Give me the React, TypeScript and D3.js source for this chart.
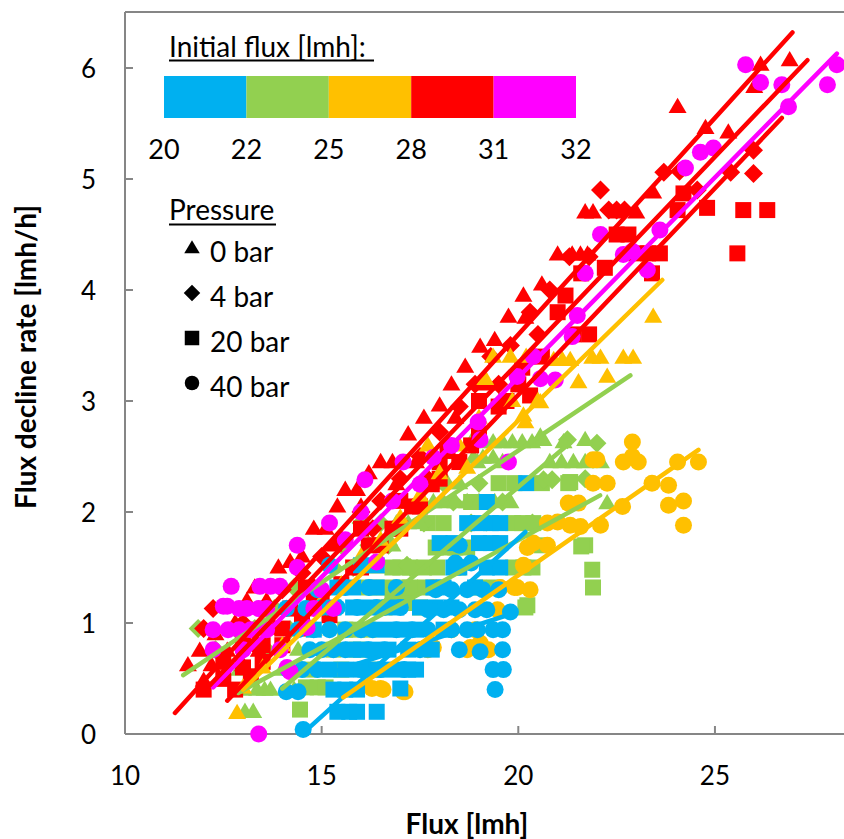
import React from "react";
import * as d3 from "d3";

// ---------- data ----------
const xTicks = [10, 15, 20, 25];
const yTicks = [0, 1, 2, 3, 4, 5, 6];
const fluxLegendValues = ["20", "22", "25", "28", "31", "32"];
const fluxLegendColors = ["#00B0F0", "#92D050", "#FFC000", "#FF0000", "#FF00FF"];
const pressureLabels = ["0 bar", "4 bar", "20 bar", "40 bar"];
const pressureShapes = ["triangle", "diamond", "square", "circle"];

// 20 lmh (blue)
const blueCircle40: [number, number][] = [
  [14.53, 0.04], [14.1, 0.38], [14.4, 0.38], [14.15, 0.58], [14.5, 0.58], [14.9, 0.58], [15.0, 0.76], [15.3, 0.76],
  [15.6, 0.76], [14.4, 0.94], [14.8, 0.94], [15.2, 0.94], [15.6, 0.94], [16.0, 0.94], [16.3, 0.94], [15.0, 1.14],
  [15.4, 1.14], [16.4, 1.14], [14.1, 1.13], [16.9, 0.94], [17.3, 0.94], [17.7, 0.94], [16.2, 0.76], [16.6, 0.76],
  [17.1, 0.58], [16.5, 0.58], [17.7, 1.12], [18.1, 1.12], [18.5, 1.12], [18.9, 1.12], [19.2, 1.12], [19.8, 1.1],
  [18.3, 0.94], [18.7, 0.94], [18.96, 0.94], [19.36, 0.94], [19.6, 0.94], [18.5, 0.76], [19.03, 0.74], [19.6, 0.76],
  [19.36, 0.58], [19.62, 0.58], [19.41, 0.4], [18.3, 1.3], [18.7, 1.3], [19.1, 1.3], [19.5, 1.3], [15.6, 1.32],
  [16.2, 1.32], [18.4, 1.54], [18.8, 1.54], [18.5, 1.7], [17.9, 1.3], [14.7, 0.76], [15.9, 1.14], [14.9, 1.3],
  [16.6, 1.14], [17.0, 1.14], [15.2, 1.52], [16.9, 1.32], [14.6, 1.13], [17.5, 0.76], [16.0, 0.58],
];
const blueSquare20: [number, number][] = [
  [15.4, 0.2], [15.7, 0.2], [15.9, 0.2], [16.4, 0.2], [15.3, 0.4], [15.6, 0.4], [15.9, 0.4], [15.2, 0.58],
  [15.6, 0.58], [16.0, 0.58], [16.4, 0.58], [16.8, 0.58], [17.2, 0.58], [15.8, 0.76], [16.0, 0.76], [16.3, 0.76],
  [16.7, 0.76], [17.2, 0.76], [16.6, 0.94], [17.0, 0.94], [17.4, 0.94], [15.3, 1.14], [15.8, 1.14], [16.2, 1.14],
  [17.5, 1.14], [17.9, 1.14], [18.3, 1.14], [15.4, 1.32], [15.8, 1.32], [16.4, 1.32], [17.84, 1.32], [18.1, 1.32],
  [18.35, 1.5], [18.5, 1.5], [19.2, 1.5], [19.54, 1.5], [18.0, 1.72], [18.35, 1.72], [19.0, 1.72], [19.3, 1.72],
  [19.54, 1.72], [19.0, 1.9], [19.3, 1.9], [19.54, 1.9], [20.2, 2.26], [18.7, 1.9], [17.0, 0.41], [17.4, 0.58],
  [18.1, 0.94], [14.8, 0.94], [17.8, 0.76], [16.0, 1.52], [16.4, 1.52], [18.9, 1.32], [19.2, 2.09], [16.9, 1.14],
];
// 22 lmh (green)
const greenSquare20: [number, number][] = [
  [14.45, 0.22], [14.6, 0.42], [14.9, 0.42], [15.1, 0.42], [14.7, 0.58], [15.5, 0.58], [15.9, 0.76], [16.3, 0.58],
  [15.9, 0.94], [16.2, 0.94], [16.6, 1.14], [16.8, 1.18], [17.17, 1.18], [17.5, 1.14], [16.2, 1.32], [16.6, 1.32],
  [17.0, 1.32], [17.25, 1.32], [17.63, 1.32], [17.0, 1.5], [17.25, 1.5], [17.6, 1.5], [17.94, 1.5], [18.47, 1.5],
  [18.1, 1.68], [18.4, 1.68], [18.7, 1.68], [17.7, 1.9], [18.1, 1.9], [19.87, 1.9], [20.38, 1.9], [19.87, 1.5],
  [20.13, 1.5], [20.36, 1.5], [20.23, 1.16], [20.18, 1.14], [19.0, 1.32], [19.4, 1.32], [20.6, 2.26], [21.27, 2.26],
  [21.32, 2.27], [21.7, 1.7], [21.88, 1.48], [21.9, 1.32], [21.6, 1.69], [19.5, 2.26], [18.8, 2.09], [20.6, 1.7],
  [15.6, 0.94], [15.3, 0.76], [16.8, 1.5], [17.9, 1.68], [19.9, 2.26], [20.1, 1.9],
];
const greenDiamond4: [number, number][] = [
  [11.86, 0.95], [12.3, 0.76], [12.8, 0.95], [13.3, 0.95], [13.8, 1.13], [14.3, 1.32], [14.8, 1.32], [15.3, 1.5],
  [15.8, 1.5], [16.2, 1.7], [16.7, 1.7], [17.17, 1.52], [17.25, 1.5], [17.6, 1.9], [18.35, 2.09], [18.8, 1.9],
  [19.2, 1.91], [19.6, 2.09], [20.36, 1.9], [20.64, 2.29], [20.86, 2.29], [21.25, 2.65], [21.7, 2.3], [22.0, 2.62],
  [19.0, 2.26], [16.0, 1.9], [15.5, 1.7], [17.5, 2.09], [13.6, 0.76], [14.2, 0.94], [16.5, 1.9], [18.1, 2.26],
];
const greenTriangle0: [number, number][] = [
  [13.05, 0.2], [13.26, 0.2], [13.36, 0.4], [13.55, 0.4], [13.7, 0.4], [13.0, 0.4], [14.0, 0.58], [14.4, 0.76],
  [14.8, 0.94], [15.2, 1.13], [15.6, 1.32], [16.0, 1.5], [16.4, 1.5], [16.8, 1.7], [17.2, 1.9], [17.5, 1.9],
  [17.84, 2.09], [18.1, 2.09], [18.4, 2.09], [18.7, 2.09], [19.0, 2.09], [19.4, 2.09], [19.8, 2.09], [17.5, 2.09],
  [18.86, 2.49], [19.1, 2.49], [19.36, 2.49], [19.6, 2.45], [20.8, 2.45], [21.1, 2.45], [21.4, 2.45], [21.7, 2.45],
  [22.1, 2.45], [18.96, 2.45], [19.36, 2.63], [19.6, 2.63], [19.85, 2.63], [20.1, 2.63], [20.35, 2.63], [20.64, 2.65],
  [20.56, 2.68], [21.15, 2.63], [21.7, 2.65], [22.26, 2.08], [18.8, 2.63], [19.1, 2.63], [14.3, 0.4], [12.9, 0.58],
  [16.9, 1.9], [18.2, 2.26], [18.5, 2.26],
];
// 25 lmh (orange)
const orangeTriangle0: [number, number][] = [
  [12.85, 0.19], [13.0, 0.42], [13.5, 0.6], [14.0, 0.8], [14.5, 0.95], [15.0, 1.2], [15.5, 1.35], [16.0, 1.6],
  [16.5, 1.75], [17.0, 1.95], [17.5, 2.15], [18.0, 2.35], [18.7, 2.4], [18.5, 2.6], [19.0, 2.85], [19.16, 3.2],
  [19.36, 3.4], [19.85, 3.0], [20.13, 2.87], [20.18, 2.81], [20.5, 3.0], [20.56, 2.99], [20.9, 3.37], [21.12, 3.37],
  [21.32, 3.37], [21.53, 3.17], [21.88, 3.39], [22.09, 3.39], [22.26, 3.22], [22.67, 3.39], [22.92, 3.39], [23.43, 3.76],
  [19.8, 3.4], [20.2, 3.4], [17.7, 2.6],
];
const orangeCircle40: [number, number][] = [
  [16.28, 0.41], [16.5, 0.41], [16.56, 0.4], [17.07, 0.38], [17.12, 0.38], [16.15, 0.58], [17.7, 0.76], [17.84, 0.78],
  [18.7, 0.76], [18.78, 0.78], [19.03, 0.82], [19.24, 0.76], [19.47, 1.12], [17.84, 1.32], [19.54, 1.32], [19.9, 1.32],
  [19.97, 1.32], [20.3, 1.3], [20.13, 1.52], [20.23, 1.68], [20.38, 1.72], [20.74, 1.7], [20.74, 1.9], [21.0, 1.91],
  [21.32, 1.88], [21.58, 1.87], [22.09, 1.88], [21.27, 2.08], [21.53, 2.08], [22.65, 2.05], [21.9, 2.26], [22.26, 2.26],
  [23.4, 2.26], [23.82, 2.24], [23.82, 2.06], [24.2, 2.1], [24.2, 1.88], [21.9, 2.47], [22.0, 2.47], [22.67, 2.45],
  [22.9, 2.5], [23.05, 2.45], [22.9, 2.63], [24.05, 2.45], [24.58, 2.45], [18.3, 0.94], [18.9, 0.94],
];
// 28 lmh (red)
const redTriangle0: [number, number][] = [
  [11.6, 0.62], [11.9, 0.75], [12.2, 0.62], [12.3, 0.9], [12.6, 0.75], [12.8, 1.0], [13.1, 1.2], [13.3, 1.32],
  [13.6, 1.2], [13.9, 1.5], [14.2, 1.55], [14.5, 1.6], [14.8, 1.85], [15.1, 1.85], [15.4, 2.05], [15.6, 2.2],
  [15.9, 2.2], [16.2, 2.35], [16.5, 2.45], [16.8, 2.45], [17.2, 2.7], [17.6, 2.85], [18.0, 2.96], [18.3, 3.15],
  [18.65, 3.31], [19.03, 3.49], [19.4, 3.55], [19.75, 3.76], [20.18, 3.75], [20.13, 3.95], [20.6, 4.05], [21.0, 4.32],
  [21.37, 4.32], [21.58, 4.32], [21.76, 4.32], [21.7, 4.7], [21.9, 4.7], [22.5, 4.7], [23.0, 4.7], [23.43, 4.88],
  [24.05, 5.65], [24.76, 5.46], [25.34, 5.42], [26.0, 5.83], [26.16, 6.03], [26.9, 6.07], [12.0, 0.48], [12.5, 0.48],
  [13.0, 0.62], [13.4, 0.75], [13.8, 0.95], [14.1, 1.13], [15.3, 1.7], [16.0, 2.05], [16.9, 2.25], [17.4, 2.45],
  [18.4, 2.85], [19.2, 3.15],
];
const redDiamond4: [number, number][] = [
  [12.24, 1.13], [12.0, 0.95], [13.0, 1.0], [13.5, 1.13], [14.0, 1.3], [14.5, 1.45], [15.0, 1.6], [15.5, 1.75],
  [16.0, 2.0], [16.5, 2.1], [17.0, 2.3], [17.5, 2.5], [18.0, 2.72], [18.5, 2.95], [18.9, 3.15], [19.3, 3.4],
  [19.8, 3.5], [20.3, 3.8], [20.8, 4.0], [21.3, 4.3], [22.3, 4.72], [22.5, 4.72], [22.7, 4.72], [22.09, 4.9],
  [23.7, 5.06], [24.1, 5.07], [24.55, 4.9], [25.4, 5.06], [25.98, 5.05], [25.98, 5.26], [12.6, 0.62], [13.3, 0.8],
  [14.8, 1.32], [16.3, 1.85], [17.7, 2.3], [19.5, 3.15], [20.5, 3.6], [21.8, 4.3],
];
const redSquare20: [number, number][] = [
  [12.0, 0.4], [12.5, 0.5], [13.0, 0.6], [13.5, 0.8], [14.0, 0.95], [14.5, 1.07], [15.0, 1.2], [15.5, 1.35],
  [16.0, 1.5], [16.5, 1.7], [17.0, 1.85], [17.5, 2.05], [18.0, 2.3], [18.5, 2.45], [18.2, 2.55], [19.0, 2.7],
  [19.5, 2.95], [20.0, 3.15], [20.3, 3.05], [20.6, 3.4], [21.0, 3.8], [21.4, 3.6], [21.8, 3.6], [22.2, 4.2],
  [22.5, 4.5], [22.8, 4.5], [23.0, 4.33], [23.3, 4.33], [24.2, 4.87], [24.05, 4.72], [24.8, 4.74], [25.72, 4.72],
  [26.33, 4.72], [25.57, 4.33], [23.6, 4.33], [23.4, 4.15], [12.5, 0.65], [13.0, 0.8], [13.5, 0.65], [14.0, 0.8],
  [14.5, 0.95], [13.2, 0.52], [12.8, 0.4], [14.8, 1.2], [15.2, 1.07], [14.2, 1.13], [14.6, 1.32], [16.2, 1.7],
  [16.8, 1.85], [17.3, 2.05], [17.8, 2.25], [18.8, 2.6], [19.7, 3.0], [20.1, 3.3], [19.0, 3.0], [18.0, 2.45],
  [17.0, 2.1], [16.0, 1.85], [15.8, 1.5], [21.2, 3.95], [21.6, 4.15],
];
// 32 lmh (magenta)
const magentaCircle40: [number, number][] = [
  [13.4, 0.0], [12.24, 0.76], [12.24, 0.94], [12.62, 0.94], [12.9, 1.13], [13.1, 1.13], [13.4, 1.13], [13.6, 1.13],
  [13.43, 1.33], [13.7, 1.33], [13.94, 1.33], [13.94, 0.76], [14.12, 0.6], [14.2, 0.56], [14.63, 0.96], [14.38, 1.5],
  [14.38, 1.7], [12.6, 1.15], [12.5, 1.15], [15.2, 1.9], [15.6, 1.75], [16.0, 2.0], [16.1, 2.29], [16.4, 1.55],
  [17.07, 2.45], [17.84, 2.49], [18.98, 2.81], [19.03, 2.65], [19.75, 2.45], [19.97, 3.22], [20.38, 3.4], [20.56, 3.2],
  [20.94, 3.19], [21.37, 3.58], [21.5, 3.77], [21.7, 4.15], [22.09, 4.5], [22.67, 4.32], [22.9, 4.35], [23.28, 4.18],
  [23.6, 4.54], [24.25, 5.1], [24.63, 5.24], [24.96, 5.28], [25.78, 6.03], [26.16, 5.87], [26.7, 5.85], [26.87, 5.65],
  [27.86, 5.85], [28.1, 6.03], [15.0, 1.3], [15.3, 1.13], [16.8, 2.1], [17.5, 2.25], [18.3, 2.6], [13.0, 0.76],
  [14.8, 1.13], [12.7, 1.33], [12.9, 0.94], [13.2, 0.94], [13.6, 0.94],
];

// trend lines: [x0, y0, x1, y1]
const trendRed: [number, number, number, number][] = [
  [11.27, 0.19, 26.97, 6.32],
  [12.16, 0.44, 27.35, 6.07],
  [12.6, 0.3, 26.7, 5.55],
];
const trendMagenta: [number, number, number, number][] = [[12.24, 0.42, 28.1, 6.13]];
const trendOrange: [number, number, number, number][] = [
  [13.0, 0.4, 23.66, 4.09],
  [15.55, 0.33, 24.58, 2.56],
];
const trendGreen: [number, number, number, number][] = [
  [11.48, 0.53, 22.85, 3.23],
  [12.88, 0.37, 22.08, 2.15],
  [14.0, 0.41, 21.3, 2.62],
];
const trendBlue: [number, number, number, number][] = [
  [14.6, 0.03, 20.18, 1.82],
  [15.2, 0.55, 19.8, 1.08],
];

// ---------- layout ----------
const W = 844;
const H = 839;
const X0 = 125;
const Y0 = 734;
const YTOP = 12;
const FONT = "Lato, 'Open Sans', sans-serif";

const x = d3.scaleLinear().domain([10, 30]).range([X0, X0 + 20 * 39.33]);
const y = d3.scaleLinear().domain([0, 6.5]).range([Y0, Y0 - 6.5 * 111]);

function shapePath(shape: string, s: number): string {
  if (shape === "circle") {
    const r = s / 2;
    return `M${r},0A${r},${r},0,1,1,${-r},0A${r},${r},0,1,1,${r},0Z`;
  }
  if (shape === "square") {
    const h = s / 2;
    return `M${-h},${-h}H${h}V${h}H${-h}Z`;
  }
  if (shape === "diamond") {
    const h = s / 2 + 1;
    return `M0,${-h}L${h},0L0,${h}L${-h},0Z`;
  }
  // triangle
  const w = s + 1;
  const ht = s * 0.9;
  return `M0,${-ht * 0.6}L${w / 2},${ht * 0.4}L${-w / 2},${ht * 0.4}Z`;
}

type Series = { data: [number, number][]; color: string; shape: string };
const series: Series[] = [
  { data: greenSquare20, color: fluxLegendColors[1], shape: "square" },
  { data: greenDiamond4, color: fluxLegendColors[1], shape: "diamond" },
  { data: greenTriangle0, color: fluxLegendColors[1], shape: "triangle" },
  { data: redSquare20, color: fluxLegendColors[3], shape: "square" },
  { data: redDiamond4, color: fluxLegendColors[3], shape: "diamond" },
  { data: redTriangle0, color: fluxLegendColors[3], shape: "triangle" },
  { data: orangeTriangle0, color: fluxLegendColors[2], shape: "triangle" },
  { data: orangeCircle40, color: fluxLegendColors[2], shape: "circle" },
  { data: blueSquare20, color: fluxLegendColors[0], shape: "square" },
  { data: blueCircle40, color: fluxLegendColors[0], shape: "circle" },
  { data: magentaCircle40, color: fluxLegendColors[4], shape: "circle" },
];

const trends: { lines: [number, number, number, number][]; color: string }[] = [
  { lines: trendGreen, color: fluxLegendColors[1] },
  { lines: trendBlue, color: fluxLegendColors[0] },
  { lines: trendOrange, color: fluxLegendColors[2] },
  { lines: trendMagenta, color: fluxLegendColors[4] },
  { lines: trendRed, color: fluxLegendColors[3] },
];

const AXIS = "#868686";

export default function App() {
  const barX = d3.scaleLinear().domain([0, 5]).range([164, 576]);
  const line = d3.line<[number, number]>().x((d) => x(d[0])).y((d) => y(d[1]));
  return (
    <svg
      width={W}
      height={H}
      style={{ position: "absolute", left: 0, top: 0, background: "#fff" }}
      fontFamily={FONT}
    >
      <rect x={0} y={0} width={W} height={H} fill="#fff" />
      {/* plot frame */}
      <line x1={X0} x2={W} y1={YTOP} y2={YTOP} stroke={AXIS} strokeWidth={2} />
      <line x1={X0} x2={X0} y1={YTOP} y2={Y0} stroke={AXIS} strokeWidth={2} />
      <line x1={X0} x2={W} y1={Y0} y2={Y0} stroke={AXIS} strokeWidth={2} />
      {yTicks.map((t) => (
        <g key={"yt" + t}>
          <line x1={X0} x2={X0 + 8} y1={y(t)} y2={y(t)} stroke={AXIS} strokeWidth={2} />
          <text x={96} y={y(t) + 9.5} textAnchor="end" fontSize={26} fill="#000">
            {t}
          </text>
        </g>
      ))}
      {xTicks.map((t) => (
        <g key={"xt" + t}>
          <line x1={x(t)} x2={x(t)} y1={Y0} y2={Y0 - 8} stroke={AXIS} strokeWidth={2} />
          <text x={x(t)} y={785} textAnchor="middle" fontSize={26} fill="#000">
            {t}
          </text>
        </g>
      ))}
      {/* axis titles */}
      <text x={467} y={834} textAnchor="middle" fontSize={28} fontWeight="bold" fill="#000">
        Flux [lmh]
      </text>
      <text
        transform={`translate(36,357) rotate(-90)`}
        textAnchor="middle"
        fontSize={28}
        fontWeight="bold"
        fill="#000"
      >
        Flux decline rate [lmh/h]
      </text>

      {/* markers */}
      {series.map((s, i) => (
        <g key={"s" + i} fill={s.color}>
          {s.data.map((d, j) => (
            <path
              key={j}
              transform={`translate(${x(d[0])},${y(d[1])})`}
              d={shapePath(s.shape, s.shape === "square" ? 16 : 17)}
            />
          ))}
        </g>
      ))}

      {/* trend lines */}
      {trends.map((t, i) => (
        <g key={"t" + i}>
          {t.lines.map((l, j) => (
            <path
              key={j}
              d={line([[l[0], l[1]], [l[2], l[3]]]) || ""}
              stroke={t.color}
              strokeWidth={4.5}
              strokeLinecap="round"
              fill="none"
            />
          ))}
        </g>
      ))}

      {/* Legend: initial flux */}
      <text x={169} y={57} fontSize={28} fill="#000">
        Initial flux [lmh]:
      </text>
      <line x1={169} x2={374} y1={60.5} y2={60.5} stroke="#000" strokeWidth={2} />
      {fluxLegendColors.map((c, i) => (
        <rect key={"fc" + i} x={barX(i)} y={76} width={barX(i + 1) - barX(i)} height={42} fill={c} />
      ))}
      {fluxLegendValues.map((v, i) => (
        <text key={"fv" + i} x={barX(i)} y={159} textAnchor="middle" fontSize={27} fill="#000">
          {v}
        </text>
      ))}

      {/* Legend: pressure */}
      <text x={169} y={220} fontSize={28} fill="#000">
        Pressure
      </text>
      <line x1={169} x2={276} y1={224.5} y2={224.5} stroke="#000" strokeWidth={2} />
      {pressureLabels.map((p, i) => {
        const cy = 248 + i * 45;
        return (
          <g key={"pl" + i}>
            <path transform={`translate(192,${cy})`} d={shapePath(pressureShapes[i], 14.5)} fill="#000" />
            <text x={210} y={cy + 14} fontSize={28} fill="#000">
              {p}
            </text>
          </g>
        );
      })}
    </svg>
  );
}
